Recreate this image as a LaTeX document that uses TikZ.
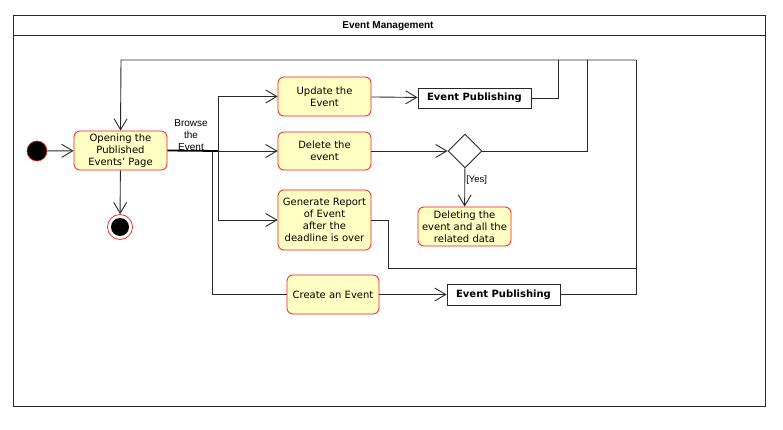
\documentclass[tikz,border=0pt]{standalone}
\usepackage{fontspec}
\setmainfont{DejaVu Sans}
\newfontfamily\arialfont{Liberation Sans}
\usetikzlibrary{arrows.meta,shapes.geometric}
\definecolor{actfill}{RGB}{255,255,196}
\definecolor{actline}{RGB}{240,30,30}
\definecolor{ln}{RGB}{40,40,40}
\begin{document}
\begin{tikzpicture}[x=1pt,y=-1pt,
  act/.style={draw=actline,fill=actfill,rounded corners=6pt,line width=0.8pt,
    minimum width=93pt,align=center,inner sep=1pt,
    font=\fontsize{10}{12}\selectfont},
  pub/.style={draw=ln,fill=white,line width=0.9pt,minimum width=113pt,minimum height=20pt,
    inner sep=1pt,font=\fontsize{10}{11}\selectfont\bfseries},
  conn/.style={draw=ln,line width=0.9pt},
  arr/.style={conn,-{Straight Barb[length=11pt,width=13pt,line width=0.9pt]}},
]
\useasboundingbox (0,0) rectangle (783,430);
% frame
\draw[draw=ln,line width=1pt] (13,16) rectangle (765,406);
\draw[draw=ln,line width=1pt] (13,36) -- (765,36);
\node (title) at (388,26.5) {\arialfont\fontsize{10}{11}\selectfont\bfseries Event Management};

% nodes
\node[circle,fill=black,draw=actline,line width=0.6pt,minimum size=20pt,inner sep=0pt] (init) at (37,151) {};
\node[act,minimum height=39pt] (open) at (120.5,150.5) {Opening the\\Published\\Events' Page};
\node[circle,fill=white,draw=actline,line width=0.7pt,minimum size=25pt,inner sep=0pt] (final) at (120,227) {};
\node[circle,fill=black,minimum size=18pt,inner sep=0pt] (finalin) at (final.center) {};

\node[act,minimum height=39pt] (upd) at (324.5,96.5) {Update the\\Event};
\node[act,minimum height=38pt] (del) at (324.5,151) {Delete the\\event};
\node[act,minimum height=60pt] (gen) at (324.5,220) {Generate Report\\of Event\\after the\\deadline is over};
\node[act,minimum width=92pt,minimum height=39pt] (crt) at (333,294.5) {Create an Event};
\node[pub] (pub1) at (474.5,98) {Event Publishing};
\node[pub,minimum height=21pt] (pub2) at (503.5,294.5) {Event Publishing};
\node[diamond,draw=ln,fill=white,line width=0.9pt,minimum width=34pt,minimum height=34pt,inner sep=0pt,aspect=1] (dia) at (465,151) {};
\node[act,minimum height=39pt] (dlt) at (464.5,226.5) {Deleting the\\event and all the\\related data};

\node[align=center,inner sep=0pt,font=\arialfont\fontsize{10}{12}\selectfont] (browse) at (191,135) {Browse\\the\\Event};

% coordinates
\coordinate (fork1) at (218,151);
\coordinate (fork2) at (212,151);
\coordinate (topL) at (121,60);
\coordinate (topR) at (636,60);
\coordinate (c1) at (558,60);
\coordinate (c2) at (587,60);
\coordinate (g1) at (388,268);

% connectors
\draw[arr] (init) -- (open);
\draw[arr] (open) -- (final);
\draw[draw=black,line width=1.8pt] (open.east) -- (fork1);
\draw[arr] (fork1) |- (upd.west);
\draw[arr] (fork1) -- (del.west);
\draw[arr] (fork1) |- (gen.west);
\draw[conn] (fork2) |- (crt.west);
\draw[arr] (upd) -- (pub1);
\draw[arr] (del) -- (dia);
\draw[arr] (dia) -- node[right,pos=0.3,inner sep=1pt,font=\arialfont\fontsize{9.5}{10}\selectfont] {[Yes]} (dlt);
\draw[arr] (crt) -- (pub2);
\draw[conn] (pub1.east) -| (c1);
\draw[conn] (dia.east) -| (c2);
\draw[conn] (gen.east) -| (g1) -| (topR);
\draw[conn] (pub2.east) -| (topR);
\draw[arr] (topR) -- (topL) -- (open.north);
\end{tikzpicture}
\end{document}
